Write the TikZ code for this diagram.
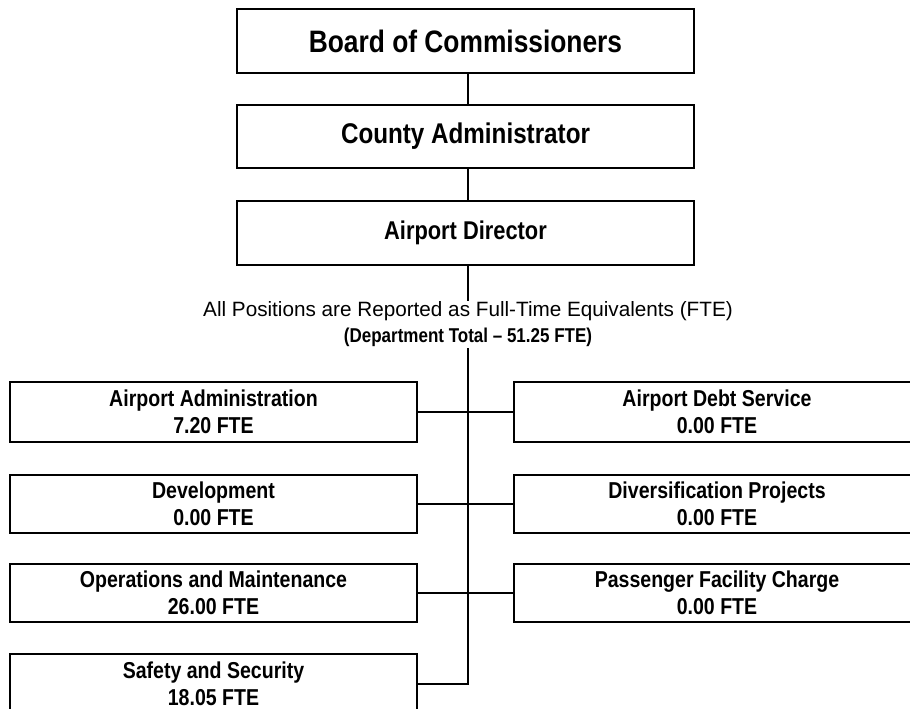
\documentclass[tikz,border=0pt]{standalone}
\usepackage{fontspec}
\setmainfont{Liberation Sans}
\newfontfamily\narrowfont{Liberation Sans}[FakeStretch=0.85]
\begin{document}
\begin{tikzpicture}[x=1pt,y=-1pt,
  topbox/.style={draw, line width=2pt, minimum width=457pt, minimum height=64pt, inner sep=0pt},
  lbox/.style={draw, line width=2pt, minimum width=407pt, inner sep=0pt, align=center,
     font=\narrowfont\bfseries\fontsize{23}{27}\selectfont},
  conn/.style={line width=1.8pt}]
\useasboundingbox (0,0) rectangle (910,709);
\clip (0,0) rectangle (910,709);
\coordinate (sp) at (468,0);
\node[topbox, font=\narrowfont\bfseries\fontsize{31}{37}\selectfont] (board) at (465.5,41) {Board of Commissioners};
\node[topbox, minimum height=63pt, font=\narrowfont\bfseries\fontsize{28.5}{34}\selectfont] (county) at (465.5,136.5) {County Administrator};
\node[topbox, font=\narrowfont\bfseries\fontsize{25.7}{31}\selectfont] (director) at (465.5,233) {Airport Director};
\node[anchor=base, inner sep=0pt, font=\fontsize{20.7}{25}\selectfont] (note1) at (468,316) {All Positions are Reported as Full-Time Equivalents (FTE)};
\node[anchor=base, inner xsep=0pt, inner ysep=2pt, font=\narrowfont\bfseries\fontsize{20}{24}\selectfont] (note2) at (468,342) {(Department Total – 51.25 FTE)};
\node[lbox, minimum height=60pt] (admin) at (213.5,412) {Airport Administration\\7.20 FTE};
\node[lbox, minimum height=58pt] (devel) at (213.5,504) {Development\\0.00 FTE};
\node[lbox, minimum height=58pt] (ops) at (213.5,593) {Operations and Maintenance\\26.00 FTE};
\node[lbox, minimum height=60pt] (safety) at (213.5,684) {Safety and Security\\18.05 FTE};
\node[lbox, minimum width=406pt, minimum height=60pt] (debt) at (717,412) {Airport Debt Service\\0.00 FTE};
\node[lbox, minimum width=406pt, minimum height=58pt] (divers) at (717,504) {Diversification Projects\\0.00 FTE};
\node[lbox, minimum width=406pt, minimum height=58pt] (pfc) at (717,593) {Passenger Facility Charge\\0.00 FTE};
\draw[conn] (board.south -| sp) -- (county.north -| sp);
\draw[conn] (county.south -| sp) -- (director.north -| sp);
\draw[conn] (director.south -| sp) -- (note1.north -| sp);
\draw[conn] (note2.south -| sp) |- (safety.east);
\draw[conn] (admin.east) -- (debt.west);
\draw[conn] (devel.east) -- (divers.west);
\draw[conn] (ops.east) -- (pfc.west);
\end{tikzpicture}
\end{document}
